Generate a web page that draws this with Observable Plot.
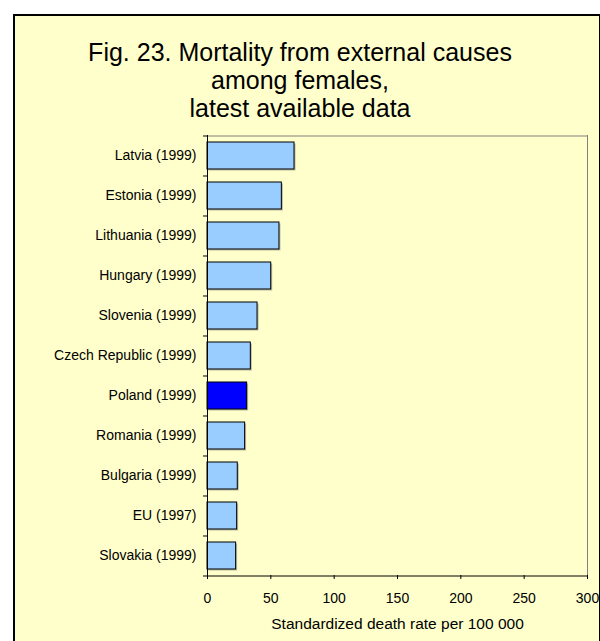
<!DOCTYPE html>
<html>
<head>
<meta charset="utf-8">
<script src="https://cdn.jsdelivr.net/npm/d3@7"></script>
<script src="https://cdn.jsdelivr.net/npm/@observablehq/plot@0.6"></script>
<style>
  html, body { margin: 0; padding: 0; background: #fff; }
  #wrap { position: relative; width: 600px; height: 641px; overflow: hidden; font-family: "Liberation Sans", Arial, sans-serif; }
  #panel { position: absolute; left: 13px; top: 14px; width: 584px; height: 700px;
           background: #FFFFCC; border-left: 2px solid #000; border-top: 2px solid #000; border-right: 2px solid #000; }
  #title { position: absolute; left: 0; width: 600px; top: 38px; text-align: center;
           font-size: 25px; line-height: 28px; color: #000; }
  #chart { position: absolute; left: 0; top: 0; }
</style>
</head>
<body>
<div id="wrap">
  <div id="panel"></div>
  <div id="title">Fig. 23. Mortality from external causes<br>among females,<br>latest available data</div>
  <div id="chart"></div>
</div>
<script>
// Female mortality from external causes, standardized death rate per 100 000
const countries = [
  "Latvia (1999)", "Estonia (1999)", "Lithuania (1999)", "Hungary (1999)",
  "Slovenia (1999)", "Czech Republic (1999)", "Poland (1999)", "Romania (1999)",
  "Bulgaria (1999)", "EU (1997)", "Slovakia (1999)"
];
const rates = [68.7, 58.7, 56.8, 50.3, 39.5, 34.2, 31.3, 29.7, 23.9, 23.4, 22.6];
const highlighted = "Poland (1999)";
const xTicks = [0, 50, 100, 150, 200, 250, 300];
const xLabel = "Standardized death rate per 100 000";

const data = countries.map((country, i) => ({country, rate: rates[i]}));
const last = countries[countries.length - 1];

const chart = Plot.plot({
  width: 600,
  height: 641,
  marginLeft: 207,
  marginRight: 13,
  marginTop: 135,
  marginBottom: 66,
  style: {background: "transparent", fontFamily: "'Liberation Sans', Arial, sans-serif", fontSize: "14px", color: "#000", overflow: "visible"},
  x: {domain: [0, 300], label: null},
  y: {domain: countries, paddingInner: 1 / 3, paddingOuter: 1 / 6, label: null},
  marks: [
    // plot area border: grey top and right, black axis lines
    Plot.ruleY([countries[0]], {dy: -20, stroke: "#808080"}),
    Plot.ruleX([300], {stroke: "#808080"}),
    // soft drop shadow behind each bar
    Plot.barX(data, {x: "rate", y: "country", fill: "#808080", fillOpacity: 0.55, dx: 1.5, dy: 1.5}),
    Plot.barX(data, {
      x: "rate",
      y: "country",
      fill: d => d.country === highlighted ? "#0000FF" : "#99CCFF",
      stroke: "#000",
      strokeWidth: 1
    }),
    Plot.ruleX([0], {stroke: "#000"}),
    Plot.ruleY([last], {dy: 20, stroke: "#000"}),
    // category separators on the y axis
    Plot.axisY({tickSize: 4, text: null, dy: -20, stroke: "#000"}),
    Plot.axisY([last], {tickSize: 4, text: null, dy: 20, stroke: "#000"}),
    Plot.axisY({tickSize: 0, tickPadding: 11, fill: "#000"}),
    Plot.axisX({ticks: xTicks, tickSize: 4, tickPadding: 14, fill: "#000", stroke: "#000", label: null}),
    Plot.text([xLabel], {frameAnchor: "bottom", dy: 53, fontSize: 15.5, fill: "#000"})
  ]
});
document.getElementById("chart").appendChild(chart);
</script>
</body>
</html>
